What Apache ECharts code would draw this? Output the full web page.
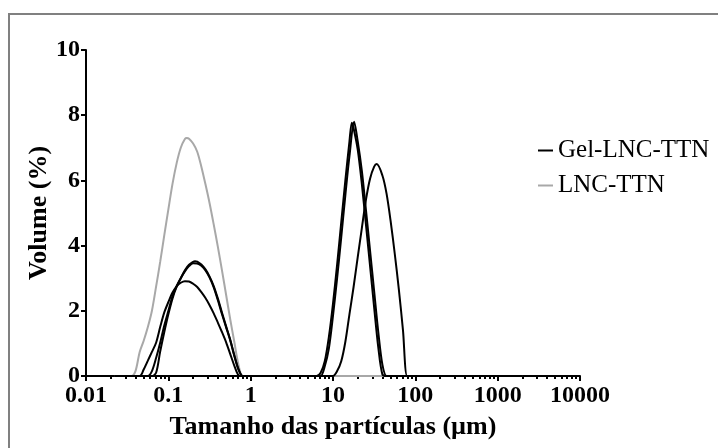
<!DOCTYPE html>
<html>
<head>
<meta charset="utf-8">
<script src="https://cdn.jsdelivr.net/npm/echarts@6/dist/echarts.min.js"></script>
<style>
  html, body { margin: 0; padding: 0; background: #fff; }
  #chart { width: 718px; height: 448px; }
</style>
</head>
<body>
<div id="chart"></div>
<script>
// Particle size distribution (volume %) vs. particle size (µm), log scale.

// Tick values and labels for the size axis
const xTicks = [0.01, 0.1, 1, 10, 100, 1000, 10000];
const xTickLabels = ['0.01', '0.1', '1', '10', '100', '1000', '10000'];
const xMinorTicks = [
  0.02, 0.03, 0.04, 0.05, 0.06, 0.07, 0.08, 0.09,
  0.2, 0.3, 0.4, 0.5, 0.6, 0.7, 0.8, 0.9,
  2, 3, 4, 5, 6, 7, 8, 9,
  20, 30, 40, 50, 60, 70, 80, 90,
  200, 300, 400, 500, 600, 700, 800, 900,
  2000, 3000, 4000, 5000, 6000, 7000, 8000, 9000
];
const yTicks = [0, 2, 4, 6, 8, 10];

// LNC-TTN: [size µm, volume %]
const lncTTN = [
  [0.0224, 0], [0.0355, 0], [0.0399, 0.15], [0.0448, 0.73], [0.0502, 1.08], [0.0564, 1.5],
  [0.0632, 2.0], [0.0710, 2.74], [0.0796, 3.5], [0.0893, 4.32], [0.1002, 5.12], [0.1125, 5.9],
  [0.1262, 6.53], [0.1416, 7.0], [0.1589, 7.27], [0.1680, 7.3], [0.1783, 7.28], [0.2000, 7.13],
  [0.2244, 6.88], [0.2518, 6.42], [0.2825, 5.88], [0.3170, 5.3], [0.3557, 4.65], [0.3991, 3.97],
  [0.4477, 3.25], [0.5024, 2.5], [0.5637, 1.75], [0.6325, 1.05], [0.7096, 0.35], [0.7962, 0],
  [0.8933, 0], [2000, 0]
];

// Gel-LNC-TTN, three measurements: [size µm, volume %]
const gelRun1 = [
  [0.0224, 0], [0.0632, 0], [0.0710, 0.1], [0.0796, 0.75], [0.0893, 1.35], [0.1002, 1.9],
  [0.1125, 2.38], [0.1262, 2.74], [0.1416, 3.0], [0.1589, 3.24], [0.1783, 3.41], [0.2110, 3.52],
  [0.2244, 3.51], [0.2518, 3.42], [0.2825, 3.27], [0.3170, 3.05], [0.3557, 2.76], [0.3991, 2.38],
  [0.4477, 1.95], [0.5024, 1.53], [0.5637, 1.12], [0.6325, 0.64], [0.7096, 0.22], [0.7962, 0],
  [0.8933, 0], [5.624, 0], [6.310, 0], [7.080, 0.1], [7.943, 0.45], [8.913, 1.2], [10.00, 2.22],
  [11.22, 3.42], [12.59, 4.71], [14.13, 6.0], [15.85, 7.2], [16.93, 7.77], [17.78, 7.6],
  [19.95, 6.95], [22.39, 5.9], [25.12, 4.65], [28.18, 3.38], [31.62, 2.1], [35.48, 0.88],
  [39.81, 0.05], [44.67, 0], [50.12, 0], [2000, 0]
];
const gelRun2 = [
  [0.0224, 0], [0.0564, 0], [0.0632, 0.15], [0.0710, 0.55], [0.0796, 1.02], [0.0893, 1.55],
  [0.1002, 2.0], [0.1125, 2.45], [0.1262, 2.76], [0.1416, 3.0], [0.1589, 3.21], [0.1783, 3.37],
  [0.2000, 3.46], [0.2244, 3.45], [0.2518, 3.38], [0.2825, 3.24], [0.3170, 3.02], [0.3557, 2.72],
  [0.3991, 2.33], [0.4477, 1.9], [0.5024, 1.5], [0.5637, 1.1], [0.6325, 0.62], [0.7096, 0.2],
  [0.7962, 0], [0.8933, 0], [6.310, 0], [7.080, 0], [7.943, 0.3], [8.913, 0.85], [10.00, 1.85],
  [11.22, 3.0], [12.59, 4.25], [14.13, 5.55], [15.85, 6.75], [18.05, 7.8], [19.95, 7.2],
  [22.39, 6.3], [25.12, 5.1], [28.18, 3.85], [31.62, 2.6], [35.48, 1.35], [39.81, 0.35],
  [44.67, 0], [50.12, 0], [2000, 0]
];
const gelRun3 = [
  [0.0224, 0], [0.0448, 0], [0.0502, 0.2], [0.0564, 0.47], [0.0632, 0.74], [0.0710, 1.02],
  [0.0796, 1.5], [0.0893, 1.95], [0.1002, 2.27], [0.1125, 2.56], [0.1262, 2.75], [0.1416, 2.86],
  [0.1589, 2.91], [0.1783, 2.9], [0.2000, 2.83], [0.2244, 2.73], [0.2518, 2.57], [0.2825, 2.39],
  [0.3170, 2.17], [0.3557, 1.92], [0.3991, 1.64], [0.4477, 1.35], [0.5024, 1.04], [0.5637, 0.68],
  [0.6325, 0.32], [0.7096, 0.03], [0.7962, 0], [0.8933, 0], [8.913, 0], [10.00, 0], [11.22, 0.15],
  [12.59, 0.45], [14.13, 1.05], [15.85, 1.9], [17.78, 2.73], [19.95, 3.64], [22.39, 4.53],
  [25.12, 5.4], [28.18, 6.05], [31.62, 6.42], [34.0, 6.5], [39.81, 6.15], [44.67, 5.6],
  [50.12, 4.75], [56.24, 3.75], [63.10, 2.65], [70.80, 1.4], [79.43, 0], [89.13, 0], [2000, 0]
];

const FONT = '"Liberation Serif", "Times New Roman", serif';
const BLACK = '#000000';
const GRAY = '#a8a8a8';

function tickLabel(v) {
  const i = xTicks.findIndex(t => Math.abs(Math.log10(t) - Math.log10(v)) < 1e-6);
  return i >= 0 ? xTickLabels[i] : '';
}

function lineSeries(name, data, color) {
  return {
    type: 'line',
    name: name,
    data: data,
    xAxisIndex: 0,
    yAxisIndex: 0,
    showSymbol: false,
    symbol: 'none',
    smooth: 0.3,
    lineStyle: { color: color, width: 2 },
    itemStyle: { color: color },
    emphasis: { disabled: true },
    animation: false
  };
}

const chart = echarts.init(document.getElementById('chart'), null, { renderer: 'canvas' });

chart.setOption({
  backgroundColor: '#ffffff',
  animation: false,
  graphic: [{
    type: 'rect',
    shape: { x: 9, y: 14, width: 900, height: 600 },
    style: { fill: 'none', stroke: '#808080', lineWidth: 2 },
    silent: true,
    z: -10
  }],
  grid: {
    left: 86, right: 138, top: 50, bottom: 72,
    outerBoundsMode: 'none',
    containLabel: false
  },
  legend: {
    orient: 'vertical',
    left: 533,
    top: 133,
    itemWidth: 15,
    itemHeight: 2,
    itemGap: 10,
    icon: 'rect',
    selectedMode: false,
    textStyle: { fontFamily: FONT, fontSize: 25, color: BLACK },
    data: [
      { name: 'Gel-LNC-TTN', itemStyle: { color: BLACK } },
      { name: 'LNC-TTN', itemStyle: { color: GRAY } }
    ]
  },
  xAxis: [
    {
      type: 'log',
      logBase: 10,
      min: 0.01,
      max: 10000,
      position: 'bottom',
      name: 'Tamanho das partículas (µm)',
      nameLocation: 'middle',
      nameGap: 38,
      nameMoveOverlap: false,
      nameTextStyle: { fontFamily: FONT, fontWeight: 'bold', fontSize: 26, color: BLACK },
      axisLine: { show: true, onZero: false, lineStyle: { color: BLACK, width: 2 } },
      axisTick: { show: true, inside: false, length: 5, customValues: xTicks, lineStyle: { color: BLACK, width: 2 } },
      axisLabel: {
        show: true, customValues: xTicks, margin: 8,
        fontFamily: FONT, fontWeight: 'bold', fontSize: 24, color: BLACK,
        formatter: tickLabel
      },
      splitLine: { show: false },
      minorTick: { show: false }
    },
    {
      type: 'log',
      logBase: 10,
      min: 0.01,
      max: 10000,
      position: 'bottom',
      axisLine: { show: false },
      axisTick: { show: true, inside: false, length: 3, customValues: xMinorTicks, lineStyle: { color: BLACK, width: 2 } },
      axisLabel: { show: false },
      splitLine: { show: false }
    }
  ],
  yAxis: {
    type: 'value',
    min: 0,
    max: 10,
    interval: 2,
    name: 'Volume (%)',
    nameLocation: 'middle',
    nameGap: 34,
    nameMoveOverlap: false,
    nameRotate: 90,
    nameTextStyle: { fontFamily: FONT, fontWeight: 'bold', fontSize: 26, color: BLACK },
    axisLine: { show: true, lineStyle: { color: BLACK, width: 2 } },
    axisTick: { show: true, inside: false, length: 5, lineStyle: { color: BLACK, width: 2 } },
    axisLabel: {
      margin: 6, fontFamily: FONT, fontWeight: 'bold', fontSize: 24, color: BLACK,
      formatter: v => (yTicks.indexOf(v) >= 0 ? String(v) : '')
    },
    splitLine: { show: false }
  },
  series: [
    lineSeries('LNC-TTN', lncTTN, GRAY),
    lineSeries('Gel-LNC-TTN', gelRun1, BLACK),
    lineSeries('Gel-LNC-TTN', gelRun2, BLACK),
    lineSeries('Gel-LNC-TTN', gelRun3, BLACK)
  ]
});
</script>
</body>
</html>
